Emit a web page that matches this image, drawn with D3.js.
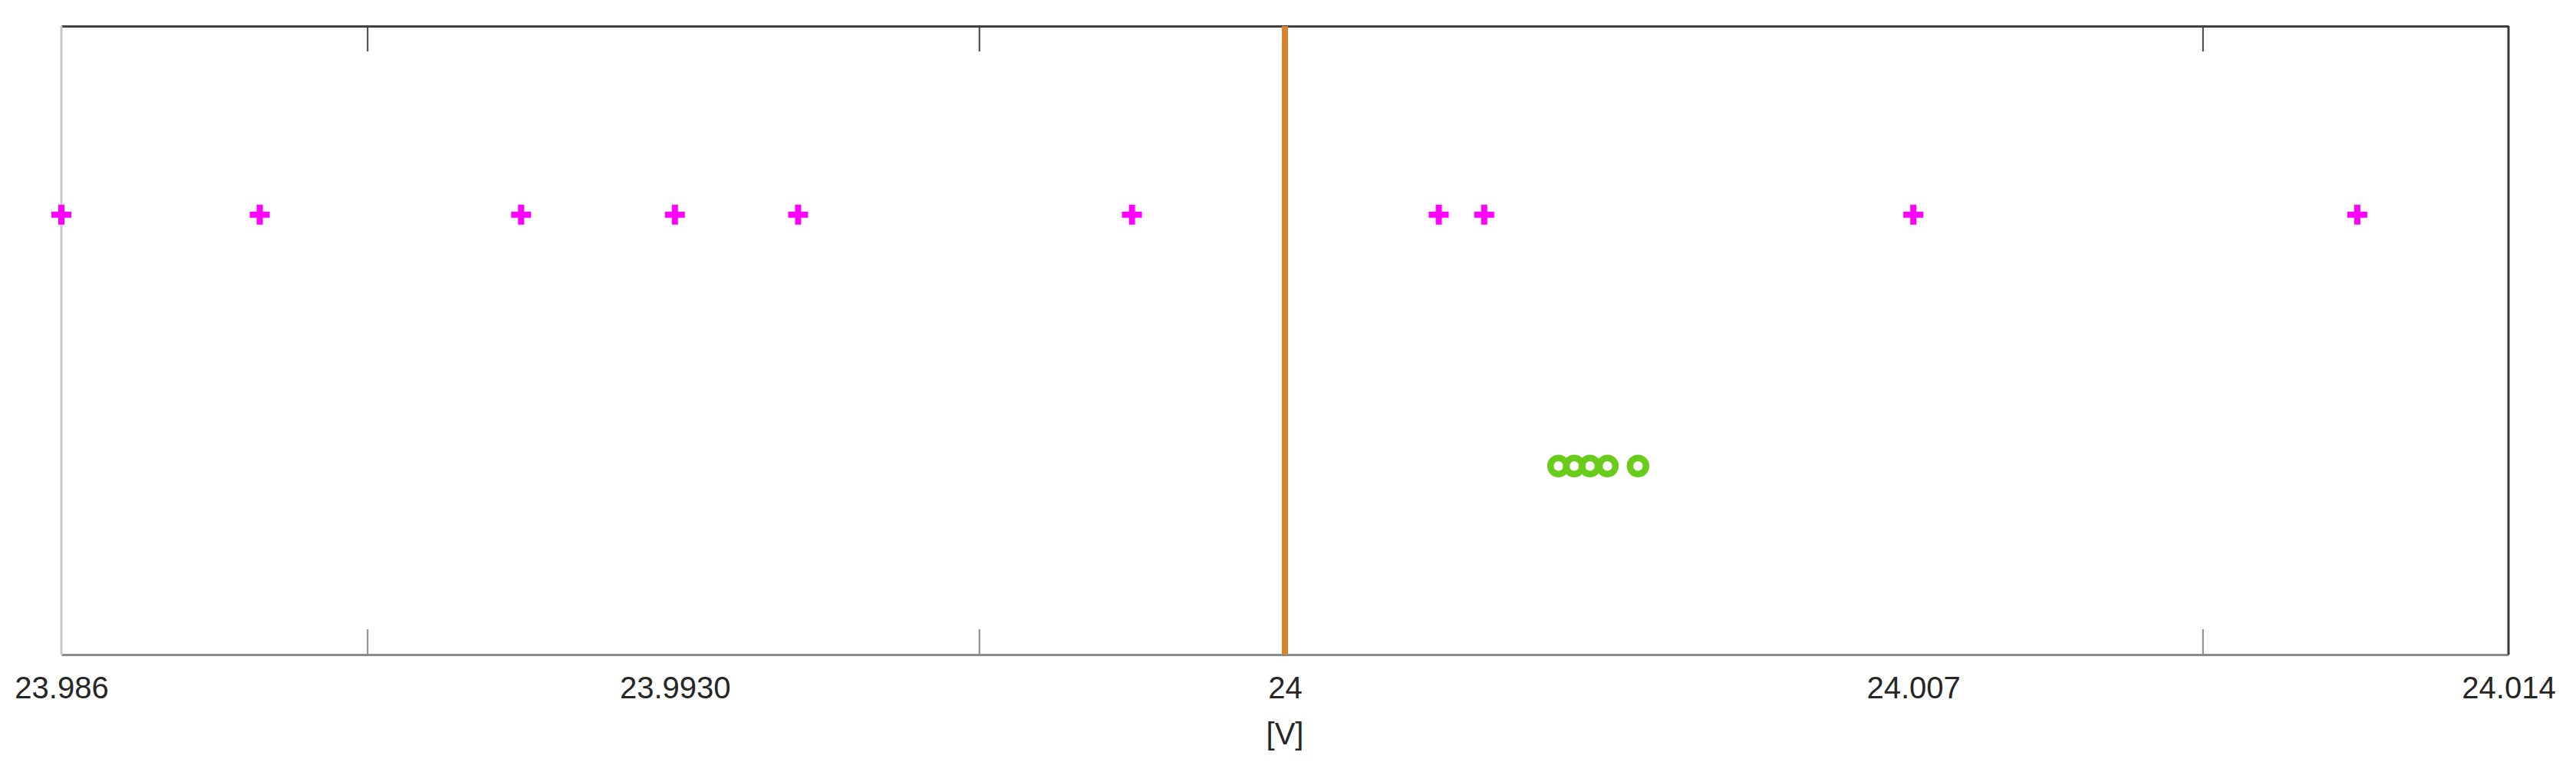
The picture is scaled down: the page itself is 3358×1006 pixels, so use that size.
<!DOCTYPE html>
<html>
<head>
<meta charset="utf-8">
<script src="https://cdn.jsdelivr.net/npm/d3@7"></script>
<style>
  html, body { margin: 0; padding: 0; background: #ffffff; }
  svg { display: block; }
</style>
</head>
<body>
<svg id="chart" width="3358" height="1006"></svg>
<script>
// ---- data ----
const xDomain = [23.986, 24.014];
const plusValues = [23.986, 23.98827, 23.99126, 23.99302, 23.99443, 23.99825, 24.00176, 24.00228, 24.00719, 24.01227];
const plusRow = 0.7;
const circleValues = [24.00313, 24.00331, 24.00349, 24.00369, 24.00404];
const circleRow = 0.3;
const referenceValue = 24;
const tickMarkValues = [23.9895, 23.9965, 24, 24.0105];
const labelValues = [23.986, 23.99302, 24, 24.00719, 24.014];
const tickLabels = ["23.986", "23.9930", "24", "24.007", "24.014"];
const xLabel = "[V]";

(function () {
  const svg = d3.select("#chart");
  const L = 80, R = 3270, T = 34, B = 853;
  const x = d3.scaleLinear().domain(xDomain).range([L, R]);
  const y = d3.scaleLinear().domain([0, 1]).range([B, T]);

  svg.append("rect").attr("width", 3358).attr("height", 1006).attr("fill", "#ffffff");

  // bottom axis: inward tick marks
  const bottomAxis = svg.append("g").attr("transform", `translate(0,${B})`)
    .call(d3.axisBottom(x).tickValues(tickMarkValues).tickFormat("")
          .tickSizeInner(-33).tickSizeOuter(0));
  bottomAxis.select(".domain").attr("stroke", "#8a8a8a").attr("stroke-width", 3);
  bottomAxis.selectAll(".tick line").attr("stroke", "#8a8a8a").attr("stroke-width", 2);

  // bottom axis labels
  const labelAxis = svg.append("g").attr("transform", `translate(0,${B})`)
    .call(d3.axisBottom(x).tickValues(labelValues)
          .tickFormat((d, i) => tickLabels[i]).tickSize(0));
  labelAxis.select(".domain").remove();
  labelAxis.selectAll(".tick line").remove();
  labelAxis.selectAll(".tick text")
    .attr("y", 57).attr("dy", 0)
    .attr("fill", "#262626")
    .style("font-family", "'Liberation Sans', Arial, sans-serif")
    .style("font-size", "40px");

  // top axis with inward ticks, no labels
  const topAxis = svg.append("g").attr("transform", `translate(0,${T})`)
    .call(d3.axisTop(x).tickValues(tickMarkValues).tickFormat("").tickSizeInner(-33).tickSizeOuter(0));
  topAxis.select(".domain").attr("stroke", "#404040").attr("stroke-width", 3);
  topAxis.selectAll(".tick line").attr("stroke", "#404040").attr("stroke-width", 2);

  // left / right borders
  svg.append("line").attr("x1", L).attr("x2", L).attr("y1", y(1)).attr("y2", y(0))
    .attr("stroke", "#c8c8c8").attr("stroke-width", 3);
  svg.append("line").attr("x1", R).attr("x2", R).attr("y1", y(1)).attr("y2", y(0))
    .attr("stroke", "#383838").attr("stroke-width", 3);

  // x label
  svg.append("text").attr("x", x(referenceValue)).attr("y", 970)
    .attr("text-anchor", "middle").attr("fill", "#262626")
    .style("font-family", "'Liberation Sans', Arial, sans-serif")
    .style("font-size", "40px").text(xLabel);

  // reference line
  svg.append("line")
    .attr("x1", x(referenceValue)).attr("x2", x(referenceValue))
    .attr("y1", y(1)).attr("y2", y(0))
    .attr("stroke", "#D9842A").attr("stroke-width", 8);

  // plus markers
  svg.append("g").selectAll("path").data(plusValues).join("path")
    .attr("transform", d => `translate(${x(d)},${y(plusRow)})`)
    .attr("d", "M-13,0H13M0,-13V13")
    .attr("stroke", "#ff00ff").attr("stroke-width", 8).attr("fill", "none");

  // circle markers
  svg.append("g").selectAll("circle").data(circleValues).join("circle")
    .attr("cx", d => x(d)).attr("cy", y(circleRow)).attr("r", 10.5)
    .attr("fill", "none").attr("stroke", "#6acc1a").attr("stroke-width", 8.5);
})();
</script>
</body>
</html>
